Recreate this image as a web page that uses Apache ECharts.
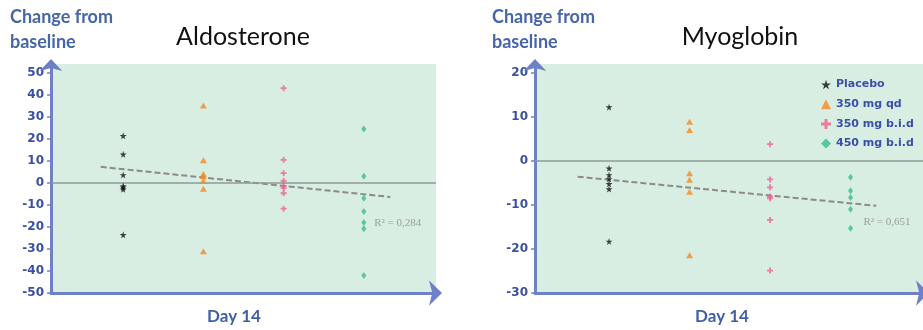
<!DOCTYPE html>
<html>
<head>
<meta charset="utf-8">
<script src="https://cdn.jsdelivr.net/npm/echarts@6/dist/echarts.min.js"></script>
<style>
html,body{margin:0;padding:0;background:#fff;}
#chart{width:923px;height:330px;}
</style>
</head>
<body>
<div id="chart"></div>
<script>
// ---- data ----
var groupNames = ['Placebo', '350 mg qd', '350 mg b.i.d', '450 mg b.i.d'];
var groupX = [1, 2, 3, 4];

// Aldosterone (left)
var aldoPlacebo = [21.4, 13, 3.6, -1.4, -2, -2.9, -23.6];
var aldoQd = [35.2, 10.3, 4, 3, 1, -2.7, -31];
var aldoBid350 = [43, 10.5, 4.4, 0.9, -1.4, -2.4, -4.7, -11.7];
var aldoBid450 = [24.5, 3, -7, -13, -18, -20.8, -42];
var aldoTrend = [[0.72, 7.3], [4.33, -6.4]];
var aldoR2 = 'R² = 0,284';
var aldoTicks = [-50, -40, -30, -20, -10, 0, 10, 20, 30, 40, 50];

// Myoglobin (right)
var myoPlacebo = [12.2, -1.7, -3.2, -4.1, -5.2, -6.4, -18.3];
var myoQd = [8.9, 7, -2.8, -4.3, -7, -21.4];
var myoBid350 = [3.8, -4.2, -6, -8.1, -8.5, -13.4, -24.9];
var myoBid450 = [-3.7, -6.8, -8.3, -11, -15.3];
var myoTrend = [[0.61, -3.6], [4.32, -10.2]];
var myoR2 = 'R² = 0,651';
var myoTicks = [-30, -20, -10, 0, 10, 20];

// ---- styles ----
var starPath = 'path://M50,0 L61,35 L98,35 L68,57 L79,91 L50,70 L21,91 L32,57 L2,35 L39,35 Z';
var plusPath = 'path://M3.5,0H6.5V3.5H10V6.5H6.5V10H3.5V6.5H0V3.5H3.5Z';
var symbols = [starPath, 'triangle', plusPath, 'diamond'];
var symSizes = [[7, 7], [7, 6], [6, 6], [5, 7]];
var colors = ['#111111', '#f28a24', '#ee5f8c', '#35bd8c'];
var axisColor = '#6e81c8';
var labelColor = '#3a4fa6';
var bg = '#d9eee3';

function pts(g, arr) { return arr.map(function (v) { return [groupX[g], v]; }); }

function makeSeries(gridIdx, groups, trend, r2, r2Pos) {
  var s = [];
  groups.forEach(function (arr, g) {
    s.push({
      name: groupNames[g], type: 'scatter', xAxisIndex: gridIdx, yAxisIndex: gridIdx,
      data: pts(g, arr), symbol: symbols[g], symbolSize: symSizes[g],
      itemStyle: { color: colors[g] }, z: 5
    });
  });
  s.push({
    type: 'line', xAxisIndex: gridIdx, yAxisIndex: gridIdx, data: trend,
    symbol: 'none', silent: true, z: 4,
    lineStyle: { color: '#8a8a8a', width: 2, type: [6, 3] },
    markLine: {
      silent: true, symbol: ['none', 'none'], label: { show: false },
      lineStyle: { color: '#8d9a93', width: 1.5, type: 'solid' },
      data: [{ yAxis: 0 }]
    }
  });
  s.push({
    type: 'scatter', xAxisIndex: gridIdx, yAxisIndex: gridIdx, data: [r2Pos],
    symbolSize: 0, silent: true,
    label: { show: true, position: 'right', distance: 0, formatter: r2,
      color: '#8a8a8a', fontSize: 11, fontFamily: 'Liberation Serif' }
  });
  return s;
}

function yAxisCfg(gridIdx, min, max, ticks) {
  return {
    type: 'value', gridIndex: gridIdx, min: min, max: max, interval: 10,
    splitLine: { show: false },
    axisLine: { show: true, onZero: false, symbol: ['none', 'arrow'], symbolSize: [17, 12],
      symbolOffset: [0, 5], lineStyle: { color: axisColor, width: 3 } },
    axisTick: { show: true, length: 4, customValues: ticks, lineStyle: { color: axisColor, width: 1.5 } },
    axisLabel: { customValues: ticks, margin: 7, color: labelColor, fontWeight: 'bold',
      fontSize: 12, fontFamily: 'DejaVu Sans' }
  };
}
function xAxisCfg(gridIdx, min, max) {
  return {
    type: 'value', gridIndex: gridIdx, min: min, max: max,
    splitLine: { show: false }, axisTick: { show: false }, axisLabel: { show: false },
    axisLine: { show: true, onZero: false, symbol: ['none', 'arrow'], symbolSize: [19, 13],
      symbolOffset: [0, 6], lineStyle: { color: axisColor, width: 3 } }
  };
}

var chart = echarts.init(document.getElementById('chart'));
var option = {
  animation: false,
  grid: [
    { left: 51, top: 64, width: 385, height: 229, show: true, backgroundColor: bg, borderWidth: 0 },
    { left: 535, top: 64, width: 388, height: 229, show: true, backgroundColor: bg, borderWidth: 0 }
  ],
  xAxis: [xAxisCfg(0, 0.1, 4.9), xAxisCfg(1, 0.08, 4.9)],
  yAxis: [yAxisCfg(0, -50, 54, aldoTicks), yAxisCfg(1, -30, 22, myoTicks)],
  legend: {
    orient: 'vertical', left: 816, top: 74, itemWidth: 10, itemHeight: 10, itemGap: 8.7,
    textStyle: { color: labelColor, fontWeight: 'bold', fontSize: 11, fontFamily: 'DejaVu Sans' },
    data: groupNames.map(function (n, i) { return { name: n, icon: symbols[i] }; })
  },
  series: [].concat(
    makeSeries(0, [aldoPlacebo, aldoQd, aldoBid350, aldoBid450], aldoTrend, aldoR2, [4.13, -18.2]),
    makeSeries(1, [myoPlacebo, myoQd, myoBid350, myoBid450], myoTrend, myoR2, [4.16, -14])
  ),
  graphic: [
    { type: 'text', left: 10, top: 5, style: { text: 'Change from\nbaseline', font: 'bold 18px Lato', lineHeight: 25, fill: '#4766a8' } },
    { type: 'text', left: 492, top: 5, style: { text: 'Change from\nbaseline', font: 'bold 18px Lato', lineHeight: 25, fill: '#4766a8' } },
    { type: 'text', x: 243, y: 37, style: { text: 'Aldosterone', font: '25px Lato', fill: '#111', align: 'center', verticalAlign: 'middle' } },
    { type: 'text', x: 740, y: 37, style: { text: 'Myoglobin', font: '25px Lato', fill: '#111', align: 'center', verticalAlign: 'middle' } },
    { type: 'text', x: 234, y: 317, style: { text: 'Day 14', font: 'bold 17px Lato', fill: '#3f5fa6', align: 'center', verticalAlign: 'middle' } },
    { type: 'text', x: 722, y: 317, style: { text: 'Day 14', font: 'bold 17px Lato', fill: '#3f5fa6', align: 'center', verticalAlign: 'middle' } }
  ]
};
chart.setOption(option);
</script>
</body>
</html>
